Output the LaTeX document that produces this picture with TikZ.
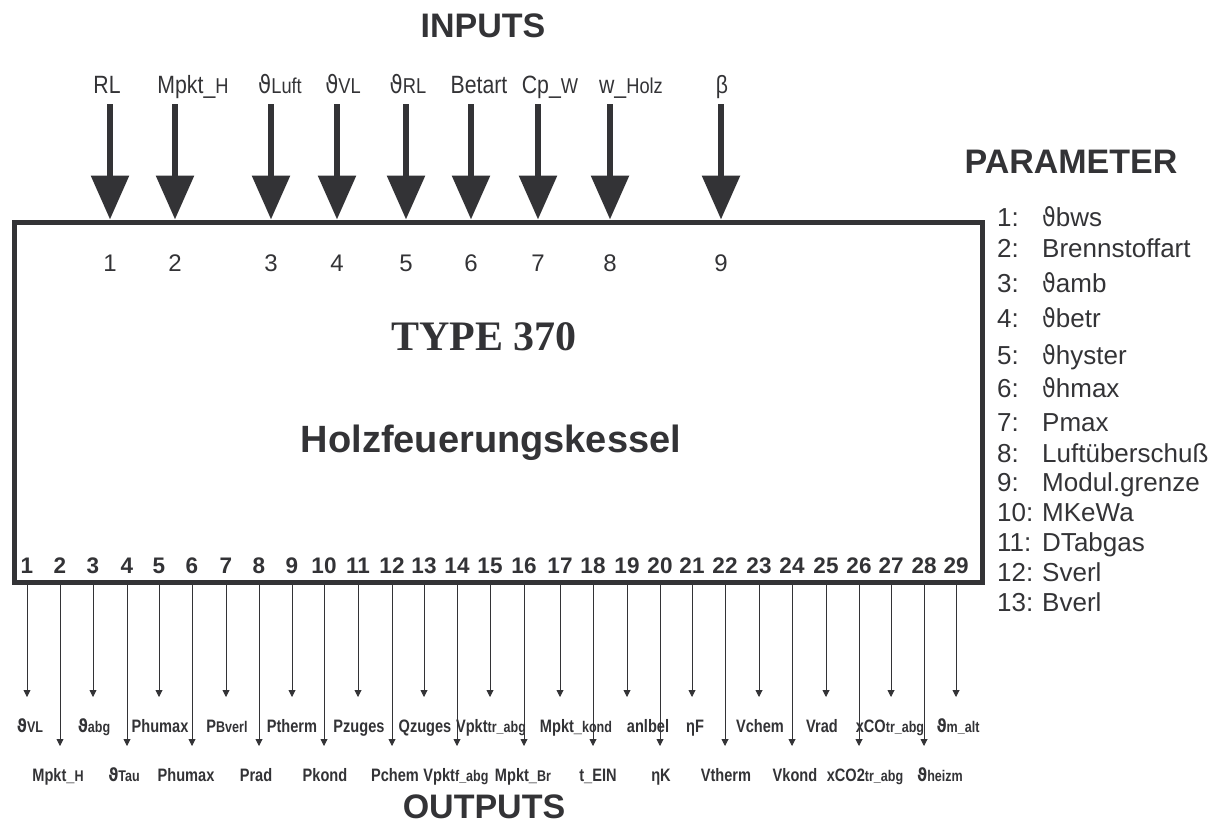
\documentclass[tikz,border=0pt]{standalone}
\usepackage{fontspec}
\usepackage{graphicx}
\setmainfont{Liberation Sans}
\newfontfamily\narrowfont[FakeStretch=0.85]{Liberation Sans}
\newfontfamily\outfont[FakeStretch=0.81]{Liberation Sans}
\newfontfamily\symfont[FakeStretch=0.85]{DejaVu Sans}
\newfontfamily\typefont{Liberation Serif}
\usetikzlibrary{arrows.meta,positioning,calc}

\definecolor{ink}{HTML}{333336}

% theta sign and the smaller index part of a name
\newcommand{\vtheta}{{\symfont ϑ}}
\newcommand{\smallpart}[1]{\scalebox{0.86}{#1}}

\begin{document}
\begin{tikzpicture}[x=1pt,y=-1pt,
    every node/.style={inner sep=0pt,text=ink},
    title/.style={font=\bfseries\fontsize{34}{40}\selectfont,anchor=base},
    inlabel/.style={font=\narrowfont\fontsize{25}{30}\selectfont,anchor=base},
    inno/.style={font=\fontsize{24}{28}\selectfont,anchor=base},
    outno/.style={font=\bfseries\fontsize{22.5}{26}\selectfont,anchor=base},
    outlabel/.style={font=\outfont\bfseries\fontsize{18}{21}\selectfont,anchor=base},
    paramtext/.style={font=\fontsize{26}{30}\selectfont,anchor=base west},
    inarrow/.style={draw=ink,line width=6pt,-{Triangle[length=44pt 0,width=37pt 0]}},
    outarrow/.style={draw=ink,line width=0.9pt,-{Triangle[length=7pt 0,width=7pt 0]}}]

    \useasboundingbox (0,0) rectangle (1217,825);

    % ---- the block ----
    \node[draw=ink,line width=5pt,minimum width=968pt,minimum height=360pt] (box) at (498,402) {};

    \node[font=\typefont\bfseries\fontsize{42}{48}\selectfont,anchor=base] (type) at (484,350) {TYPE 370};
    \node[font=\bfseries\fontsize{38}{44}\selectfont,anchor=base] (name) at (491,452) {Holzfeuerungskessel};

    % ---- inputs ----
    \node[title] (inputs) at (483,37.5) {INPUTS};

    \foreach \i/\x/\lx/\txt in {1/110/107/{RL},
                                2/175/193/{Mpkt\_\smallpart{H}},
                                3/271/280/{\vtheta\smallpart{Luft}},
                                4/337/343/{\vtheta\smallpart{VL}},
                                5/406/408/{\vtheta\smallpart{RL}},
                                6/471/479/{Betart},
                                7/538/550/{Cp\_\smallpart{W}},
                                8/610/631/{w\_\smallpart{Holz}},
                                9/721/722/{β}} {
        \node[inlabel] (inlab\i) at (\lx,93) {\txt};
        \coordinate (top\i) at (\x,104);
        \draw[inarrow] (top\i) -- (top\i |- box.north);
        \node[inno] (inno\i) at (\x,271.5) {\i};
    }

    % ---- parameter ----
    \node[title] (param) at (1071,173.5) {PARAMETER};

    \foreach \n/\y/\val in {1/226/{\vtheta bws},
                            2/257/{Brennstoffart},
                            3/292/{\vtheta amb},
                            4/327/{\vtheta betr},
                            5/364/{\vtheta hyster},
                            6/397/{\vtheta hmax},
                            7/431/{Pmax},
                            8/462/{Luftüberschuß},
                            9/491/{Modul.grenze},
                            10/521/{MKeWa},
                            11/551/{DTabgas},
                            12/581/{Sverl},
                            13/611/{Bverl}} {
        \node[paramtext] (pno\n) at (997,\y) {\n:};
        \node[paramtext] (pval\n) at (1042,\y) {\val};
    }

    % ---- outputs ----
    \foreach \i/\x/\lx/\txt in {1/27/30/{\vtheta\smallpart{VL}},
                                2/60/58/{Mpkt\_\smallpart{H}},
                                3/93/94/{\vtheta\smallpart{abg}},
                                4/127/124/{\vtheta\smallpart{Tau}},
                                5/159/160/{Phumax},
                                6/192/186/{Phumax},
                                7/226/227/{P\smallpart{Bverl}},
                                8/259/256/{Prad},
                                9/292/292/{Ptherm},
                                10/324/325/{Pkond},
                                11/358/359/{Pzuges},
                                12/392/395/{Pchem},
                                13/424/425/{Qzuges},
                                14/457/456/{Vpkt\smallpart{f\_abg}},
                                15/490/491/{Vpkt\smallpart{tr\_abg}},
                                16/524/523/{Mpkt\_\smallpart{Br}},
                                17/560/576/{Mpkt\_\smallpart{kond}},
                                18/593/598/{t\_EIN},
                                19/627/648/{anlbel},
                                20/660/661/{ηK},
                                21/692/695/{ηF},
                                22/725/726/{Vtherm},
                                23/759/760/{Vchem},
                                24/792/795/{Vkond},
                                25/826/822/{Vrad},
                                26/859/865/{xCO2\smallpart{tr\_abg}},
                                27/891/890/{xCO\smallpart{tr\_abg}},
                                28/924/940/{\vtheta\smallpart{heizm}},
                                29/956/958/{\vtheta\smallpart{m\_alt}}} {
        \pgfmathtruncatemacro\tipy{mod(\i,2)==1 ? 697 : 746}
        \node[outno] (outno\i) at (\x,573.5) {\i};
        \coordinate (bot\i) at (box.south -| \x,0);
        \coordinate (end\i) at (\x,\tipy);
        \draw[outarrow] (bot\i) -- (end\i);
        \node[outlabel] (outlab\i) at (\lx,\tipy+35) {\txt};
    }

    \node[title] (outputs) at (484,818.5) {OUTPUTS};

\end{tikzpicture}
\end{document}
